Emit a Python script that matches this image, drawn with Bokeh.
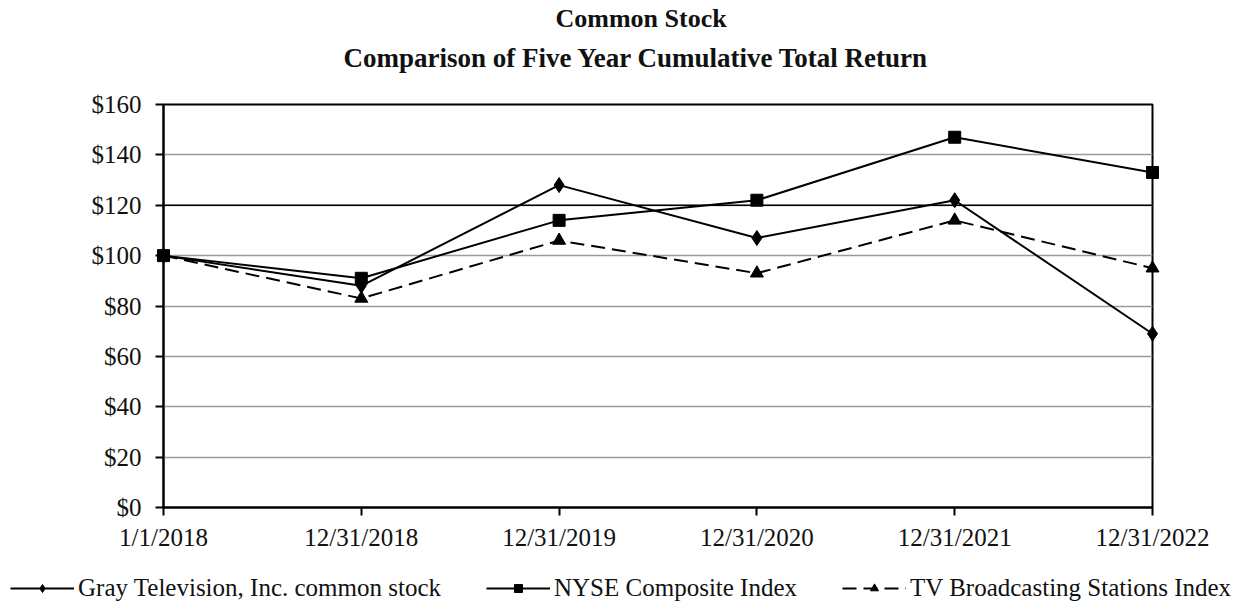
from bokeh.plotting import figure
from bokeh.layouts import column, row
from bokeh.models import (Range1d, FixedTicker, NumeralTickFormatter, Title, Legend,
                          LegendItem, Span)
from bokeh.embed import file_html
from bokeh.resources import INLINE

# ---- data ----
dates = ["1/1/2018", "12/31/2018", "12/31/2019", "12/31/2020", "12/31/2021", "12/31/2022"]
gray_tv = [100, 88, 128, 107, 122, 69]
nyse = [100, 91, 114, 122, 147, 133]
tv_index = [100, 83, 106, 93, 114, 95]
series_names = ["Gray Television, Inc. common stock", "NYSE Composite Index",
                "TV Broadcasting Stations Index"]
y_ticks = [0, 20, 40, 60, 80, 100, 120, 140, 160]
highlight_level = 120

FONT = "Liberation Serif"
TXT = "#111111"
xs = list(range(len(dates)))

styles = [dict(marker="diamond", size=15, dash="solid"),
          dict(marker="square", size=12, dash="solid"),
          dict(marker="triangle", size=13, dash="14 7")]
series = [gray_tv, nyse, tv_index]

p = figure(frame_width=989, frame_height=403,
           min_border_left=163, min_border_right=90, min_border_top=104, min_border_bottom=60,
           x_range=Range1d(0, len(dates) - 1), y_range=Range1d(y_ticks[0], y_ticks[-1]),
           output_backend="svg", toolbar_location=None, title=None)

p.background_fill_color = "white"
p.border_fill_color = "white"
p.outline_line_color = "black"
p.outline_line_width = 2

# titles (first added sits nearest the frame)
p.add_layout(Title(text=" ", text_font=FONT, text_font_size="10px", standoff=11), "above")
p.add_layout(Title(text="Comparison of  Five Year Cumulative Total Return", align="left", offset=180,
                   text_font=FONT, text_font_size="27px", text_font_style="bold",
                   text_color=TXT, standoff=16), "above")
p.add_layout(Title(text="Common Stock", align="left", offset=392,
                   text_font=FONT, text_font_size="26px", text_font_style="bold",
                   text_color=TXT, standoff=0), "above")

# axes
p.xaxis.ticker = FixedTicker(ticks=xs)
p.xaxis.major_label_overrides = {i: d for i, d in enumerate(dates)}
p.yaxis.ticker = FixedTicker(ticks=y_ticks)
p.yaxis.formatter = NumeralTickFormatter(format="$0")
for ax in (p.xaxis, p.yaxis):
    ax.axis_line_color = "black"
    ax.axis_line_width = 2
    ax.major_tick_line_color = "black"
    ax.major_tick_line_width = 2
    ax.major_tick_in = 0
    ax.major_tick_out = 8
    ax.minor_tick_line_color = None
    ax.major_label_text_font = FONT
    ax.major_label_text_font_size = "25px"
    ax.major_label_text_color = TXT
p.yaxis.major_label_standoff = 14
p.xaxis.major_label_standoff = 8

p.xgrid.grid_line_color = None
p.ygrid.grid_line_color = "#9a9a9a"
p.ygrid.grid_line_width = 1.5

p.add_layout(Span(location=highlight_level, dimension="width", line_color="black", line_width=1.5))

for vals, st in zip(series, styles):
    p.line(xs, vals, line_color="black", line_width=2, line_dash=st["dash"], level="overlay")
    p.scatter(xs, vals, marker=st["marker"], size=st["size"], fill_color="black",
              line_color="black", level="overlay")

# ---- legend strip below the chart (same series, drawn out of view; only the legend shows) ----
lg = figure(width=163 + 989 + 90, height=44, min_border=0,
            x_range=Range1d(-3, -2), y_range=Range1d(-3, -2),
            x_axis_type=None, y_axis_type=None,
            output_backend="svg", toolbar_location=None, title=None)
lg.outline_line_color = None
lg.xgrid.grid_line_color = None
lg.ygrid.grid_line_color = None
items = []
for name, vals, st in zip(series_names, series, styles):
    rl = lg.line(xs, vals, line_color="black", line_width=2, line_dash=st["dash"])
    rm = lg.scatter(xs, vals, marker=st["marker"], size=st["size"], fill_color="black",
                    line_color="black")
    items.append(LegendItem(label=name, renderers=[rl, rm]))

legend = Legend(items=items, orientation="horizontal", location=(10, 9),
                glyph_width=64, glyph_height=20, label_standoff=4, spacing=45,
                padding=0, margin=0, border_line_color=None, background_fill_alpha=0,
                label_text_font=FONT, label_text_font_size="25px", label_text_color=TXT)
lg.add_layout(legend)

# nesting the strip in its own row keeps its frame from being aligned with the chart's frame
layout = column(p, row(lg, spacing=0), spacing=0)
open("out.html", "w").write(file_html(layout, INLINE))
